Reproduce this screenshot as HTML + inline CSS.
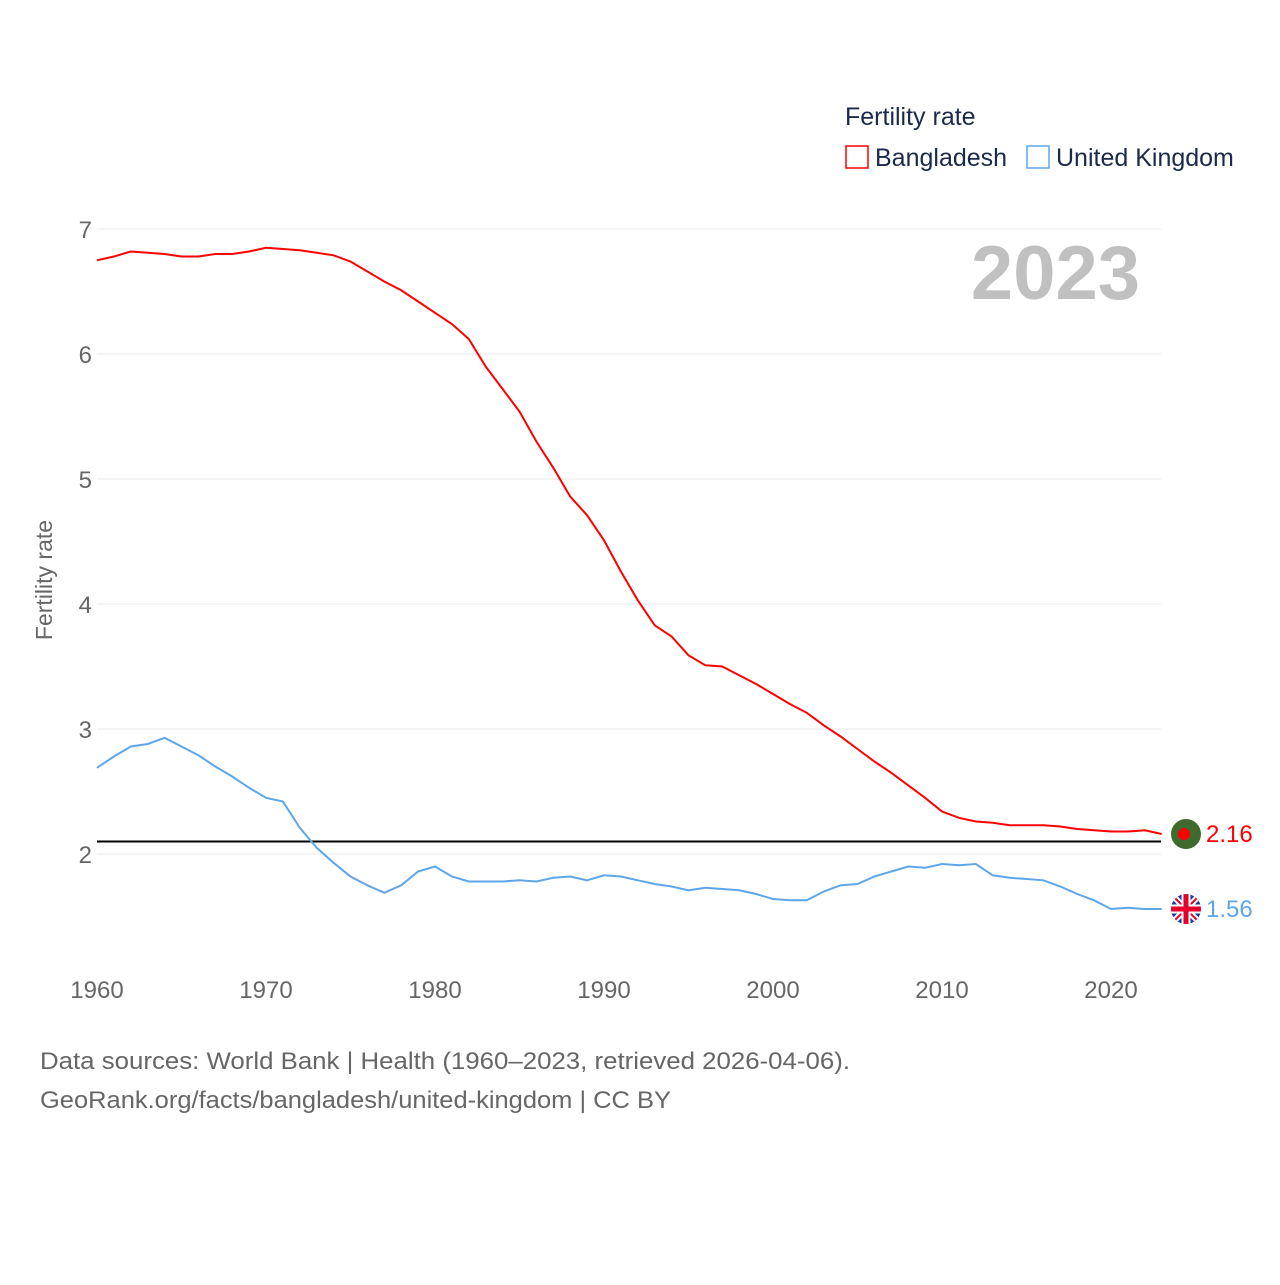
<!DOCTYPE html>
<html><head><meta charset="utf-8"><style>
body{margin:0;background:#fff;}
svg text{font-family:"Liberation Sans",sans-serif;}
</style></head><body>
<svg id="chart" width="1280" height="1280" xmlns="http://www.w3.org/2000/svg">
<rect width="1280" height="1280" fill="#fff"/>
<g id="grid"></g>
<g id="yticks"></g>
<g id="xticks"></g>
<text x="52" y="580" transform="rotate(-90 52 580)" text-anchor="middle" font-size="23" fill="#666">Fertility rate</text>
<text x="1140" y="299" text-anchor="end" font-size="76" font-weight="bold" fill="#c0c0c0">2023</text>
<text x="845" y="125" font-size="25" fill="#1a2a4a">Fertility rate</text>
<g><rect x="846" y="146" width="22" height="22" fill="none" stroke="#ff0000" stroke-width="1.5"/><text x="875" y="166" font-size="25" fill="#1a2a4a">Bangladesh</text></g>
<g><rect x="1027" y="146" width="22" height="22" fill="none" stroke="#5ea6ea" stroke-width="1.5"/><text x="1056" y="166" font-size="25" fill="#1a2a4a">United Kingdom</text></g>
<g id="series"></g>
<text x="40" y="1069" font-size="24" fill="#666" textLength="810" lengthAdjust="spacingAndGlyphs">Data sources: World Bank | Health (1960–2023, retrieved 2026-04-06).</text>
<text x="40" y="1108" font-size="24" fill="#666" textLength="631" lengthAdjust="spacingAndGlyphs">GeoRank.org/facts/bangladesh/united-kingdom | CC BY</text>
</svg>
<script>
const years = Array.from({length:64},(_,i)=>1960+i);
const bangladesh = [6.75,6.78,6.82,6.81,6.80,6.78,6.78,6.80,6.80,6.82,6.85,6.84,6.83,6.81,6.79,6.74,6.66,6.58,6.51,6.42,6.33,6.24,6.12,5.90,5.72,5.54,5.30,5.09,4.86,4.71,4.51,4.26,4.03,3.83,3.74,3.59,3.51,3.50,3.43,3.36,3.28,3.20,3.13,3.03,2.94,2.84,2.74,2.65,2.55,2.45,2.34,2.29,2.26,2.25,2.23,2.23,2.23,2.22,2.20,2.19,2.18,2.18,2.19,2.16];
const uk = [2.69,2.78,2.86,2.88,2.93,2.86,2.79,2.70,2.62,2.53,2.45,2.42,2.21,2.05,1.93,1.82,1.75,1.69,1.75,1.86,1.90,1.82,1.78,1.78,1.78,1.79,1.78,1.81,1.82,1.79,1.83,1.82,1.79,1.76,1.74,1.71,1.73,1.72,1.71,1.68,1.64,1.63,1.63,1.70,1.75,1.76,1.82,1.86,1.90,1.89,1.92,1.91,1.92,1.83,1.81,1.80,1.79,1.74,1.68,1.63,1.56,1.57,1.56,1.56];
const yTicks = [2,3,4,5,6,7];
const xTicks = [1960,1970,1980,1990,2000,2010,2020];
const replacementRate = 2.1;
const NS='http://www.w3.org/2000/svg';
const xS = y => 97 + (y-1960)*(1111-97)/60;
const yS = v => 854 - (v-2)*125;
function mk(tag, attrs, parent){const e=document.createElementNS(NS,tag);for(const k in attrs)e.setAttribute(k,attrs[k]);parent.appendChild(e);return e;}
const grid=document.getElementById('grid'), yt=document.getElementById('yticks'), xt=document.getElementById('xticks'), ser=document.getElementById('series');
yTicks.forEach(v=>{
  const l=mk('line',{x1:97,x2:1161,y1:yS(v),y2:yS(v),stroke:'#e8e8e8','stroke-width':1},grid);
  
  
  const t=mk('text',{x:92,y:yS(v)+9,'text-anchor':'end','font-size':24,fill:'#666'},yt);
  t.textContent=v;
  
  
});
xTicks.forEach(v=>{
  const t=mk('text',{x:xS(v),y:998,'text-anchor':'middle','font-size':24,fill:'#666'},xt);
  t.textContent=v;
  
  
});
const rl=mk('line',{x1:97,x2:1161,y1:yS(replacementRate),y2:yS(replacementRate),stroke:'#000','stroke-width':2},ser);


function line(vals,color,name){
  const p=mk('path',{d:vals.map((v,i)=>(i?'L':'M')+xS(years[i]).toFixed(1)+','+yS(v).toFixed(1)).join(''),fill:'none',stroke:color,'stroke-width':2},ser);
  
  
}
line(bangladesh,'#ff0000','bangladesh-line');
line(uk,'#5ea6ea','uk-line');
const bv=bangladesh[bangladesh.length-1], uv=uk[uk.length-1];
const bf=mk('g',{},ser);


mk('circle',{cx:1186,cy:yS(bv),r:15,fill:'#3f6b2e'},bf);
mk('circle',{cx:1184,cy:yS(bv),r:6,fill:'#ff0000'},bf);
const bl=mk('text',{x:1206,y:yS(bv)+8,'font-size':24,fill:'#ff0000'},ser);
bl.textContent=bv.toFixed(2);


const uf=mk('g',{},ser);


const cy=yS(uv);
const cp=mk('clipPath',{id:'ukc'},uf);
mk('circle',{cx:1186,cy:cy,r:15},cp);
const ug=mk('g',{'clip-path':'url(#ukc)'},uf);
mk('rect',{x:1171,y:cy-15,width:30,height:30,fill:'#1f3b8c'},ug);
mk('path',{d:`M1171 ${cy-15}L1201 ${cy+15}M1201 ${cy-15}L1171 ${cy+15}`,stroke:'#fff','stroke-width':6},ug);
mk('path',{d:`M1171 ${cy-15}L1201 ${cy+15}M1201 ${cy-15}L1171 ${cy+15}`,stroke:'#e4002b','stroke-width':2},ug);
mk('path',{d:`M1186 ${cy-15}V${cy+15}M1171 ${cy}H1201`,stroke:'#fff','stroke-width':9},ug);
mk('path',{d:`M1186 ${cy-15}V${cy+15}M1171 ${cy}H1201`,stroke:'#e4002b','stroke-width':5},ug);
const ul=mk('text',{x:1206,y:cy+8,'font-size':24,fill:'#5ea6ea'},ser);
ul.textContent=uv.toFixed(2);


</script>
</body></html>
